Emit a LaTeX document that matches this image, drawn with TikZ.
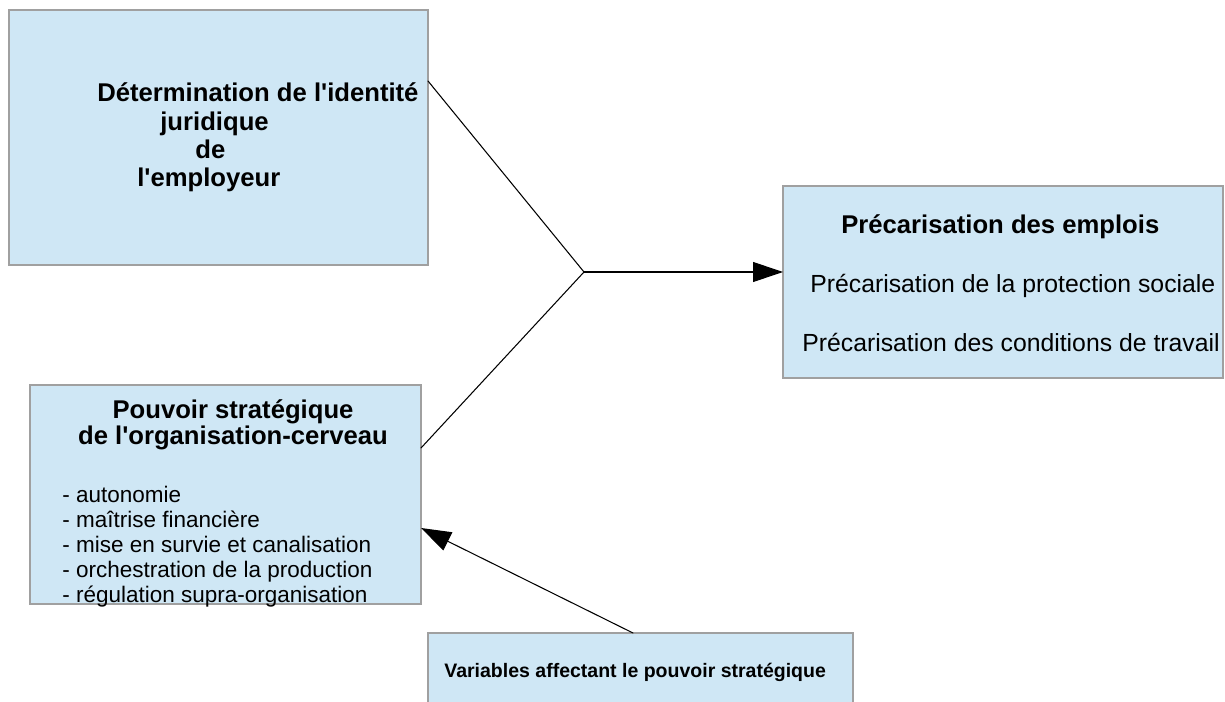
\documentclass[tikz,border=0pt]{standalone}
\usepackage{fontspec}
\setmainfont{Liberation Sans}
\usepackage{tikz}
\usetikzlibrary{arrows.meta}

\definecolor{boxblue}{RGB}{207,231,245}
\definecolor{boxedge}{RGB}{160,160,160}

\begin{document}
\begin{tikzpicture}[line cap=round,
  block/.style={draw=boxedge, fill=boxblue, line width=0.6pt, inner sep=0pt, outer sep=0pt},
  link/.style={black, line width=0.6pt},
  tip/.style={-{Triangle[length=0.6cm, width=0.4cm]}},
  headtxt/.style={inner sep=0pt, font=\fontsize{14.6}{17}\bfseries},
  bodytxt/.style={anchor=base west, inner sep=0pt, font=\fontsize{14.1}{17}\selectfont},
  listtxt/.style={anchor=base west, inner sep=0pt, font=\fontsize{12.8}{15}\selectfont},
  smalltxt/.style={anchor=base west, inner sep=0pt, font=\fontsize{11.1}{13}\bfseries}]
  % page frame (reference size)
  \useasboundingbox (0,0) rectangle (24.5,14.02);
  \clip (0,0) rectangle (24.5,14.02);
  % boxes
  \node[block, minimum width=8.38cm, minimum height=5.10cm] (ident) at (4.37,11.27) {};
  \node[block, minimum width=7.82cm, minimum height=4.38cm] (pouvoir) at (4.51,4.13) {};
  \node[block, minimum width=8.50cm, minimum height=1.74cm] (variables) at (12.81,0.49) {};
  \node[block, minimum width=8.80cm, minimum height=3.84cm] (precar) at (20.06,8.38) {};
  % text of the identity box
  \node[headtxt, anchor=base west] (ident-l1) at (1.94,11.98) {Détermination de l\textquotesingle identité};
  \node[headtxt, anchor=base west] (ident-l2) at (3.20,11.41) {juridique};
  \node[headtxt, anchor=base west] (ident-l3) at (3.90,10.84) {de};
  \node[headtxt, anchor=base west] (ident-l4) at (2.74,10.28) {l\textquotesingle employeur};
  % text of the strategic power box
  \node[headtxt, anchor=base] (pouvoir-l1) at (4.66,5.66) {Pouvoir stratégique};
  \node[headtxt, anchor=base] (pouvoir-l2) at (4.66,5.12) {de l\textquotesingle organisation-cerveau};
  \node[listtxt] (item1) at (1.24,3.98) {- autonomie};
  \node[listtxt] (item2) at (1.24,3.48) {- maîtrise financière};
  \node[listtxt] (item3) at (1.24,2.98) {- mise en survie et canalisation};
  \node[listtxt] (item4) at (1.24,2.48) {- orchestration de la production};
  \node[listtxt] (item5) at (1.24,1.98) {- régulation supra-organisation};
  % text of the precariousness box
  \node[headtxt, anchor=base west] (precar-l1) at (16.82,9.34) {Précarisation des emplois};
  \node[bodytxt] (precar-l2) at (16.20,8.16) {Précarisation de la protection sociale};
  \node[bodytxt] (precar-l3) at (16.04,6.98) {Précarisation des conditions de travail};
  % text of the variables box
  \node[smalltxt] (variables-l1) at (8.88,0.48) {Variables affectant le pouvoir stratégique};
  % connectors
  \coordinate (J) at (11.68,8.58);
  \draw[link] ([yshift=1.13cm]ident.east) -- (J);
  \draw[link] ([yshift=0.93cm]pouvoir.east) -- (J);
  \draw[link, tip] (J) -- (J -| precar.west);
  \draw[link, tip] ([xshift=-0.15cm]variables.north) -- ([yshift=-0.67cm]pouvoir.east);
\end{tikzpicture}
\end{document}
